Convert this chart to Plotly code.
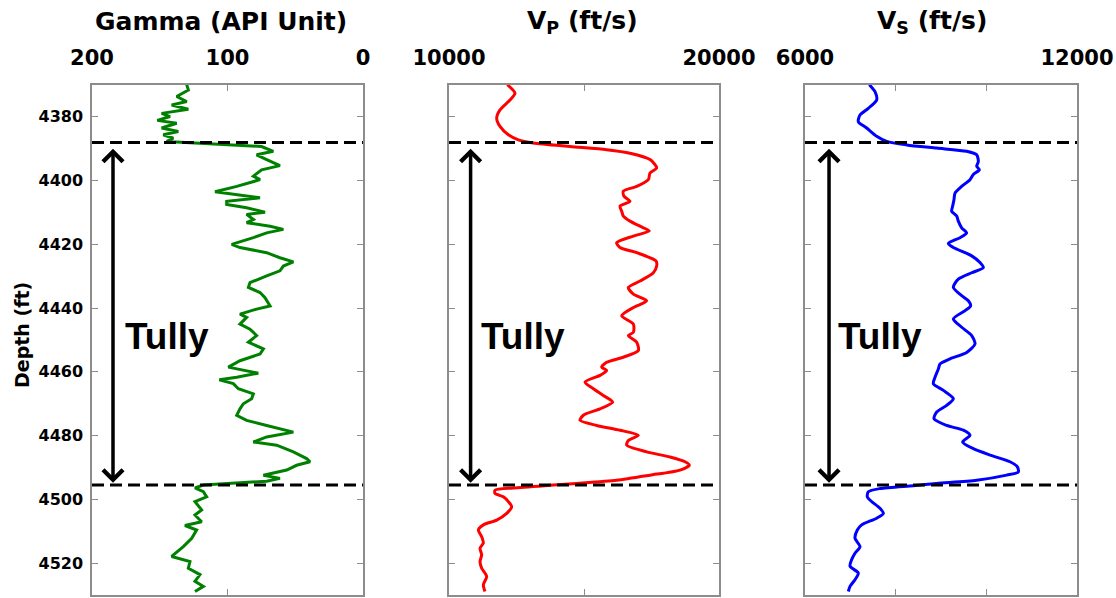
import plotly.graph_objects as go

# ---- log data -------------------------------------------------------------
GR_DEPTH = [4369.9, 4371.6, 4373.6, 4375.2, 4376.3, 4377.6, 4378.9, 4379.9, 4381.1, 4382.0,
            4383.5, 4384.6, 4385.6, 4386.7, 4387.7, 4388.4, 4389.3, 4390.8, 4391.9, 4393.4,
            4395.3, 4396.6, 4398.6, 4399.7, 4401.8, 4403.5, 4404.4, 4405.4, 4406.5, 4407.5,
            4408.5, 4409.9, 4410.6, 4412.2, 4413.2, 4414.3, 4415.3, 4416.4, 4417.9, 4420.0,
            4421.0, 4422.6, 4424.2, 4425.5, 4426.8, 4428.3, 4429.9, 4432.0, 4433.5, 4435.1,
            4436.7, 4439.3, 4440.3, 4441.9, 4442.9, 4445.0, 4446.6, 4448.6, 4450.7, 4452.8,
            4454.4, 4456.5, 4458.5, 4460.4, 4461.7, 4462.5, 4463.7, 4465.3, 4466.9, 4468.4,
            4470.0, 4471.6, 4473.6, 4475.2, 4476.8, 4478.9, 4480.4, 4482.0, 4483.0, 4485.1,
            4487.2, 4488.2, 4489.3, 4490.8, 4492.4, 4493.4, 4494.3, 4494.9, 4495.5, 4496.4,
            4497.6, 4499.2, 4500.7, 4503.3, 4504.9, 4507.0, 4508.2, 4509.6, 4512.2, 4514.8,
            4517.9, 4519.5, 4521.6, 4523.6, 4525.7, 4527.3, 4528.9]
GAMMA = [130.1, 128.9, 137.5, 130.1, 141.2, 128.9, 148.6, 142.4, 151.8, 137.5,
         148.6, 136.3, 147.4, 140.0, 144.9, 110.5, 74.8, 66.2, 78.5, 71.1,
         61.3, 74.8, 80.9, 76.0, 93.2, 109.2, 93.2, 76.0, 100.6, 100.6,
         85.9, 72.3, 85.9, 80.9, 85.9, 68.6, 58.8, 71.1, 80.9, 96.9,
         90.8, 71.1, 61.3, 51.4, 58.8, 61.3, 71.1, 83.4, 84.6, 76.0,
         72.3, 68.6, 78.5, 90.8, 85.9, 90.8, 83.4, 78.5, 84.6, 73.5,
         76.0, 90.8, 99.4, 77.3, 93.2, 106.0, 95.7, 92.0, 80.9, 82.2,
         88.3, 90.8, 93.2, 85.9, 71.1, 51.4, 71.1, 80.9, 63.7, 51.4,
         41.6, 39.1, 49.0, 56.3, 73.5, 61.3, 71.1, 93.2, 117.8, 124.0,
         117.8, 115.4, 124.0, 119.1, 124.0, 119.1, 131.4, 122.8, 126.4, 132.6,
         141.2, 127.7, 128.9, 120.3, 124.0, 117.8, 124.0]

VP_DEPTH = [4369.9, 4372.6, 4374.7, 4377.8, 4380.4, 4383.0, 4385.6, 4387.2, 4388.2, 4389.3,
            4390.3, 4391.4, 4393.4, 4396.0, 4397.6, 4399.7, 4401.8, 4403.3, 4404.9, 4406.5,
            4408.0, 4409.6, 4411.1, 4412.7, 4414.3, 4415.8, 4417.4, 4419.5, 4421.0, 4422.6,
            4425.2, 4426.8, 4428.9, 4431.5, 4433.5, 4435.6, 4437.7, 4439.8, 4442.4, 4445.0,
            4447.6, 4448.6, 4450.7, 4453.3, 4455.4, 4457.0, 4458.5, 4459.6, 4461.1, 4463.2,
            4465.3, 4467.4, 4469.5, 4471.6, 4473.6, 4475.2, 4476.8, 4478.3, 4479.9, 4481.5,
            4483.0, 4485.1, 4486.7, 4488.2, 4489.3, 4490.8, 4492.4, 4494.0, 4495.0, 4495.5,
            4496.4, 4497.1, 4498.1, 4499.2, 4500.7, 4502.3, 4504.4, 4506.5, 4508.0, 4509.6,
            4511.7, 4513.7, 4515.3, 4517.4, 4519.5, 4521.6, 4524.2, 4526.8, 4528.9]
VP = [12161, 12445, 12259, 11889, 11766, 11889, 12198, 12568, 13124, 14482,
      15840, 16704, 17445, 17692, 17445, 17383, 16951, 16457, 16482, 16704,
      16334, 16396, 16457, 16704, 17074, 17420, 16828, 16210, 16334, 16951,
      17667, 17692, 17568, 17074, 16642, 16828, 17321, 16828, 16396, 16828,
      16828, 16642, 16951, 17013, 16457, 15840, 15655, 15840, 15593, 15037,
      15346, 15716, 16062, 15593, 14975, 14852, 15469, 16334, 17013, 16642,
      16581, 17321, 18185, 18741, 18901, 18556, 17445, 16210, 14729, 13864,
      12383, 11704, 11704, 12013, 12198, 12321, 12136, 11766, 11272, 11087,
      11210, 11272, 11148, 11210, 11148, 11210, 11395, 11272, 11333]

VS_DEPTH = [4369.9, 4372.1, 4374.7, 4377.3, 4379.4, 4381.5, 4383.5, 4386.1, 4387.7, 4388.8,
            4389.8, 4390.8, 4391.9, 4394.0, 4395.5, 4396.6, 4398.1, 4399.7, 4401.8, 4403.9,
            4405.9, 4408.0, 4409.6, 4411.1, 4412.7, 4414.8, 4416.4, 4417.9, 4419.7, 4421.0,
            4423.6, 4425.7, 4427.3, 4428.9, 4430.9, 4433.5, 4436.1, 4437.7, 4439.3, 4440.8,
            4443.4, 4446.0, 4448.6, 4451.25, 4453.9, 4455.9, 4457.5, 4459.1, 4461.7, 4463.7,
            4465.8, 4468.4, 4470.5, 4472.6, 4474.7, 4476.8, 4478.3, 4479.9, 4482.0, 4484.1,
            4486.1, 4488.2, 4489.8, 4491.4, 4492.4, 4494.0, 4495.0, 4495.7, 4496.6, 4497.6,
            4499.2, 4500.7, 4502.8, 4504.4, 4505.9, 4508.0, 4509.6, 4512.2, 4514.8, 4516.9,
            4518.9, 4521.0, 4523.1, 4525.2, 4527.3, 4528.9]
VS = [7419, 7544, 7581, 7397, 7213, 7176, 7360, 7581, 7802, 8243,
      8905, 9566, 9787, 9824, 9787, 9846, 9713, 9640, 9456, 9309,
      9287, 9257, 9235, 9346, 9382, 9456, 9566, 9419, 9162, 9272,
      9677, 9860, 9934, 9677, 9382, 9272, 9456, 9603, 9654, 9530,
      9272, 9456, 9677, 9750, 9566, 9199, 8978, 8941, 8868, 8831,
      9052, 9272, 9125, 8905, 8846, 9125, 9493, 9640, 9478, 9713,
      10081, 10522, 10684, 10706, 10449, 9787, 8905, 8390, 7654, 7397,
      7375, 7471, 7654, 7728, 7581, 7250, 7154, 7103, 7213, 7103,
      7029, 6993, 7176, 7103, 6993, 6956]

# formation top / base picks (ft)
TULLY_TOP = 4388.0
TULLY_BASE = 4495.5
FORMATION = "Tully"

DEPTH_TICKS = [4380, 4400, 4420, 4440, 4460, 4480, 4500, 4520]
GR_TICKS = [200, 100, 0]
VP_TICKS = [10000, 15000, 20000]
VP_TICKTEXT = ["10000", "", "20000"]
VS_TICKS = [6000, 8000, 10000, 12000]
VS_TICKTEXT = ["6000", "", "", "12000"]

# x position of the formation arrow on each track (track units)
ARROW_X = [184.5, 10800, 6530]

TITLES = ["Gamma (API Unit)", "V<sub>P</sub> (ft/s)", "V<sub>S</sub> (ft/s)"]

# ---- figure ---------------------------------------------------------------
W, H = 1116, 598
fig = go.Figure()

fig.add_trace(go.Scatter(x=GAMMA, y=GR_DEPTH, mode="lines", xaxis="x", yaxis="y",
                         line=dict(color="#008000", width=3), showlegend=False))
fig.add_trace(go.Scatter(x=VP, y=VP_DEPTH, mode="lines", xaxis="x2", yaxis="y2",
                         line=dict(color="#ff0000", width=3, shape="spline", smoothing=0.7),
                         showlegend=False))
fig.add_trace(go.Scatter(x=VS, y=VS_DEPTH, mode="lines", xaxis="x3", yaxis="y3",
                         line=dict(color="#0000ff", width=3, shape="spline", smoothing=0.7),
                         showlegend=False))

frame = dict(showline=True, linecolor="#8c8c8c", linewidth=1.5, mirror="ticks",
             ticks="inside", ticklen=6, tickwidth=1.2, tickcolor="#8c8c8c",
             showgrid=False, zeroline=False, automargin=False)
tick_font_x = dict(family="DejaVu Sans", size=21, color="black", weight="bold")
tick_font_y = dict(family="DejaVu Sans", size=16, color="black", weight="bold")

y_dom = [0.005, 1 - 85 / H]
x_doms = [[92 / W, 363 / W], [449 / W, 719 / W], [805 / W, 1077 / W]]

fig.update_layout(
    width=W, height=H,
    margin=dict(l=0, r=0, t=0, b=0, autoexpand=False),
    paper_bgcolor="white", plot_bgcolor="white",
    xaxis=dict(frame, domain=x_doms[0], range=[200, 0], side="top", anchor="y",
               tickvals=GR_TICKS, tickfont=tick_font_x, ticklabelstandoff=10),
    xaxis2=dict(frame, domain=x_doms[1], range=[10000, 20000], side="top", anchor="y2",
                tickvals=VP_TICKS, ticktext=VP_TICKTEXT, tickfont=tick_font_x,
                ticklabelstandoff=10),
    xaxis3=dict(frame, domain=x_doms[2], range=[6000, 12000], side="top", anchor="y3",
                tickvals=VS_TICKS, ticktext=VS_TICKTEXT, tickfont=tick_font_x,
                ticklabelstandoff=10),
    yaxis=dict(frame, domain=y_dom, range=[4530, 4370], anchor="x",
               tickvals=DEPTH_TICKS, tickfont=tick_font_y, ticklabelstandoff=4),
    yaxis2=dict(frame, domain=y_dom, range=[4530, 4370], anchor="x2", matches="y",
                tickvals=DEPTH_TICKS, showticklabels=False),
    yaxis3=dict(frame, domain=y_dom, range=[4530, 4370], anchor="x3", matches="y",
                tickvals=DEPTH_TICKS, showticklabels=False),
)

axis_ids = [("x", "y"), ("x2", "y2"), ("x3", "y3")]
shapes = []
annotations = []
for i, (xa, ya) in enumerate(axis_ids):
    for d in (TULLY_TOP, TULLY_BASE):
        shapes.append(dict(type="line", xref=f"{xa} domain", x0=0, x1=1,
                           yref=ya, y0=d, y1=d,
                           line=dict(color="black", width=3, dash="12px,6px")))
    # double-headed arrow spanning the formation
    annotations.append(dict(x=ARROW_X[i], y=TULLY_BASE - 0.7, xref=xa, yref=ya,
                            ax=ARROW_X[i], ay=TULLY_TOP + 1.5, axref=xa, ayref=ya,
                            text="", showarrow=True, arrowside="end+start",
                            arrowhead=4, startarrowhead=4, arrowsize=1.1,
                            startarrowsize=1.1, arrowwidth=3.5, arrowcolor="black"))
    annotations.append(dict(x=0.275, y=4449, xref=f"{xa} domain", yref=ya,
                            text=FORMATION, showarrow=False, xanchor="center",
                            yanchor="middle",
                            font=dict(family="Liberation Sans", size=37,
                                      color="black", weight="bold")))

title_x = [221, 582, 932]
for t, px in zip(TITLES, title_x):
    annotations.append(dict(x=px / W, y=1 - 22 / H, xref="paper", yref="paper",
                            text=t, showarrow=False, xanchor="center", yanchor="middle",
                            font=dict(family="DejaVu Sans", size=25, color="black",
                                      weight="bold")))

annotations.append(dict(x=22 / W, y=1 - 335 / H, xref="paper", yref="paper",
                        text="Depth (ft)", textangle=-90, showarrow=False,
                        xanchor="center", yanchor="middle",
                        font=dict(family="DejaVu Sans", size=19, color="black",
                                  weight="bold")))

fig.update_layout(shapes=shapes, annotations=annotations)
fig.write_html("out.html")
